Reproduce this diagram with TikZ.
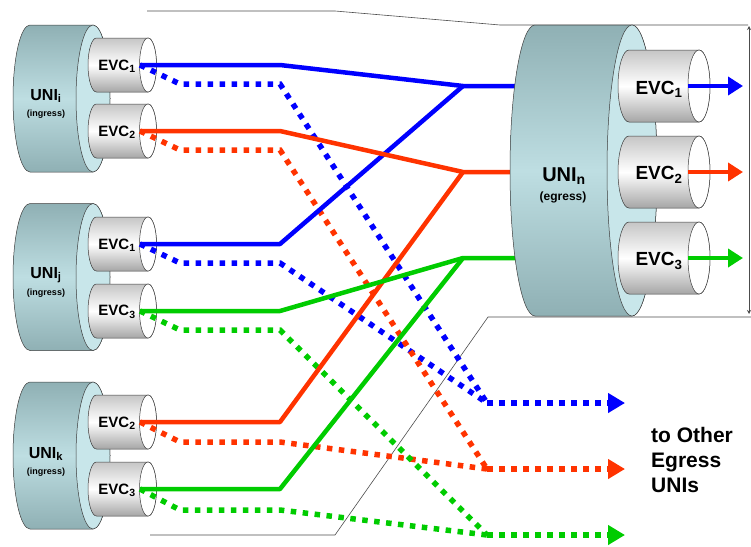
\documentclass[tikz,border=0pt]{standalone}
\usepackage{fontspec}
\setmainfont{Liberation Sans}
\usetikzlibrary{arrows.meta}
\usetikzlibrary{positioning}
\definecolor{evcBlue}{RGB}{0,0,255}
\definecolor{evcRed}{RGB}{255,51,0}
\definecolor{evcGreen}{RGB}{0,204,0}
\definecolor{uniDark}{RGB}{143,176,180}
\definecolor{uniLight}{RGB}{190,222,226}
\definecolor{uniFace}{RGB}{200,230,234}
\definecolor{edgeGray}{RGB}{60,60,60}
\tikzstyle{unibody}=[top color=uniDark, bottom color=uniDark, middle color=uniLight, draw=edgeGray, line width=0.5pt]
\tikzstyle{uniface}=[fill=uniFace, draw=edgeGray, line width=0.5pt]
\tikzstyle{evcbody}=[top color=gray!45, bottom color=gray!70, middle color=white, draw=edgeGray, line width=0.5pt]
\tikzstyle{evcface}=[fill=white, draw=edgeGray, line width=0.5pt]
\tikzstyle{frame}=[draw=gray!60!black, line width=0.6pt]
\tikzstyle{link}=[line width=4.5pt, line join=round]
\tikzstyle{dots}=[line width=5.5pt, dash pattern=on 5.5pt off 6.5pt]
\tikzstyle{outarrow}=[-{Triangle[length=17pt,width=19pt]}]
\tikzstyle{unilbl}=[inner sep=0pt, font=\bfseries\fontsize{16}{16}\selectfont]
\tikzstyle{unibig}=[inner sep=0pt, font=\bfseries\fontsize{20}{20}\selectfont]
\tikzstyle{dirlbl}=[inner sep=0pt, font=\bfseries\fontsize{9}{9}\selectfont]
\tikzstyle{evclbl}=[inner sep=0pt, font=\bfseries\fontsize{15}{15}\selectfont]
\tikzstyle{evcbig}=[inner sep=0pt, font=\bfseries\fontsize{19}{19}\selectfont]
\tikzstyle{othlbl}=[anchor=base west, inner sep=0pt, font=\bfseries\fontsize{21}{21}\selectfont]
% horizontal drum: style, face style, left x, right x, centre y, x radius, y radius
\newcommand{\drum}[7]{%
  \shade[#1] (#4,#5-#7) -- (#3,#5-#7) arc[start angle=-90,end angle=-270,x radius=#6,y radius=#7]
    -- (#4,#5+#7) arc[start angle=90,end angle=-90,x radius=#6,y radius=#7] -- cycle;
  \draw[#2] (#4,#5) ellipse[x radius=#6,y radius=#7];}

\begin{document}
\begin{tikzpicture}[x=1pt,y=-1pt]
\useasboundingbox (0,0) rectangle (751,546);
% frame
\draw[frame] (147,11) -- (335,11) -- (500,25) -- (748,25);
\draw[frame] (150,535) -- (335,535) -- (488,317) -- (751,317);
\draw[frame, {Stealth[length=4pt,width=4pt]}-{Stealth[length=4pt,width=4pt]}] (749,26) -- (749,314);
% ingress UNIs
\drum{unibody}{uniface}{30}{93}{98.5}{17}{73.5}
\drum{evcbody}{evcface}{96.5}{148}{65}{8.5}{27}
\drum{evcbody}{evcface}{96.5}{148}{131}{8.5}{27}
\drum{unibody}{uniface}{30}{93}{277}{17}{73.5}
\drum{evcbody}{evcface}{96.5}{148}{244}{8.5}{27}
\drum{evcbody}{evcface}{96.5}{148}{311}{8.5}{27}
\drum{unibody}{uniface}{30}{93}{455.5}{17}{73.5}
\drum{evcbody}{evcface}{96.5}{148}{422}{8.5}{27}
\drum{evcbody}{evcface}{96.5}{148}{489}{8.5}{27}
\node[unilbl] (uniI) at (46,96) {UNI\textsubscript{i}};
\node[dirlbl] (ingI) at (46,114) {(ingress)};
\node[unilbl] (uniJ) at (46,275) {UNI\textsubscript{j}};
\node[dirlbl] (ingJ) at (46,293) {(ingress)};
\node[unilbl] (uniK) at (46,454) {UNI\textsubscript{k}};
\node[dirlbl] (ingK) at (46,472) {(ingress)};
\node[evclbl] (evcI1) at (117,66) {EVC\textsubscript{1}};
\node[evclbl] (evcI2) at (117,132) {EVC\textsubscript{2}};
\node[evclbl] (evcJ1) at (117,245) {EVC\textsubscript{1}};
\node[evclbl] (evcJ3) at (117,312) {EVC\textsubscript{3}};
\node[evclbl] (evcK2) at (117,423) {EVC\textsubscript{2}};
\node[evclbl] (evcK3) at (117,490) {EVC\textsubscript{3}};
% ports
\coordinate (pI1) at (140,65);
\coordinate (pI2) at (140,131);
\coordinate (pJ1) at (140,244);
\coordinate (pJ3) at (140,311);
\coordinate (pK2) at (140,422);
\coordinate (pK3) at (140,489);
\coordinate (hB) at (463,86);
\coordinate (hR) at (463,172);
\coordinate (hG) at (463,258);
\coordinate (inB) at (530,86);
\coordinate (inR) at (530,172);
\coordinate (inG) at (530,258);
\coordinate (mB) at (487,403);
\coordinate (mR) at (487,469);
\coordinate (mG) at (487,535);
\coordinate (outB) at (625,403);
\coordinate (outR) at (625,469);
\coordinate (outG) at (625,535);
% dotted links to other egress UNIs
\draw[dots, evcBlue] (pI1) -- ++(40,19) -- ++(100,0) -- (mB);
\draw[dots, evcBlue] (pJ1) -- ++(40,19) -- ++(100,0) -- (mB);
\draw[dots, evcRed] (pI2) -- ++(40,19) -- ++(100,0) -- (mR);
\draw[dots, evcRed] (pK2) -- ++(40,20) -- ++(100,0) -- (mR);
\draw[dots, evcGreen] (pJ3) -- ++(40,19) -- ++(100,0) -- (mG);
\draw[dots, evcGreen] (pK3) -- ++(40,21) -- ++(100,0) -- (mG);
\draw[dots, evcBlue, outarrow] (mB) -- (outB);
\draw[dots, evcRed, outarrow] (mR) -- (outR);
\draw[dots, evcGreen, outarrow] (mG) -- (outG);
% solid links to UNI n
\draw[link, evcBlue] (pI1) -- ++(140,0) -- (hB) -- (inB);
\draw[link, evcBlue] (pJ1) -- ++(140,0) -- (hB);
\draw[link, evcRed] (pI2) -- ++(140,0) -- (hR) -- (inR);
\draw[link, evcRed] (pK2) -- ++(140,0) -- (hR);
\draw[link, evcGreen] (pJ3) -- ++(140,0) -- (hG) -- (inG);
\draw[link, evcGreen] (pK3) -- ++(140,0) -- (hG);
% egress UNI
\drum{unibody}{uniface}{535}{632}{170.5}{25}{145.5}
\drum{evcbody}{evcface}{629}{699}{86}{11}{36}
\drum{evcbody}{evcface}{629}{699}{172}{11}{36}
\drum{evcbody}{evcface}{629}{699}{258}{11}{36}
\node[unibig] (uniN) at (564,176) {UNI\textsubscript{n}};
\node[dirlbl, font=\bfseries\fontsize{12}{12}\selectfont] (egrN) at (563,197) {(egress)};
\node[evcbig] (evcN1) at (659,89) {EVC\textsubscript{1}};
\node[evcbig] (evcN2) at (659,175) {EVC\textsubscript{2}};
\node[evcbig] (evcN3) at (659,261) {EVC\textsubscript{3}};
\coordinate (pN1) at (688,86);
\coordinate (pN2) at (688,172);
\coordinate (pN3) at (688,258);
\coordinate (oN1) at (743,86);
\coordinate (oN2) at (743,172);
\coordinate (oN3) at (743,258);
\draw[link, evcBlue, -{Triangle[length=15pt,width=18pt]}] (pN1) -- (oN1);
\draw[link, evcRed, -{Triangle[length=15pt,width=18pt]}] (pN2) -- (oN2);
\draw[link, evcGreen, -{Triangle[length=15pt,width=18pt]}] (pN3) -- (oN3);
% text
\node[othlbl] (oth1) at (651,442) {to Other};
\node[othlbl] (oth2) at (651,467) {Egress};
\node[othlbl] (oth3) at (651,492) {UNIs};
\end{tikzpicture}
\end{document}
